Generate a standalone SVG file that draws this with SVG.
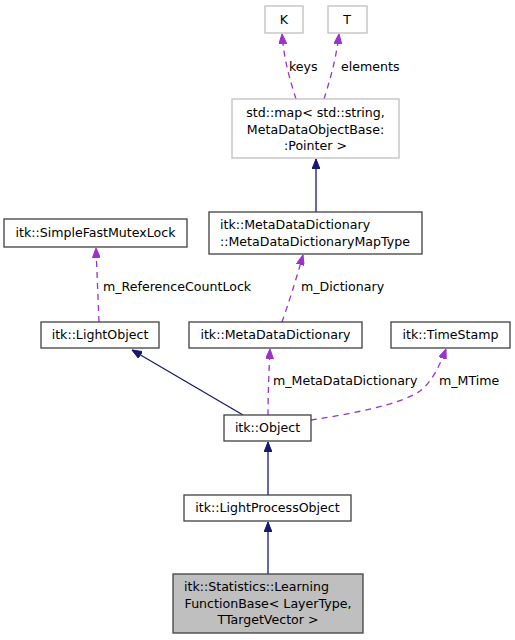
<svg xmlns="http://www.w3.org/2000/svg" width="515" height="640" viewBox="0 0 515 640">
<defs>
<marker id="blue" viewBox="0 0 10 8" refX="10" refY="4" markerWidth="10" markerHeight="8" markerUnits="userSpaceOnUse" orient="auto"><path d="M0,0 L10,4 L0,8 Z" fill="#191970" stroke="#191970" stroke-width="1"/></marker>
<marker id="purple" viewBox="0 0 10 8" refX="10" refY="4" markerWidth="10" markerHeight="8" markerUnits="userSpaceOnUse" orient="auto"><path d="M0,0 L10,4 L0,8 Z" fill="#9a32cd" stroke="#9a32cd" stroke-width="1"/></marker>
</defs>
<style>
text{font-family:"DejaVu Sans","Liberation Sans",sans-serif;font-size:12.6px;fill:#000}
.c{text-anchor:middle}
.n{fill:#fff;stroke:#404040;stroke-width:1.3}
.g{fill:#fff;stroke:#bfbfbf;stroke-width:1.3}
.s{fill:#bfbfbf;stroke:#404040;stroke-width:1.3}
.inh{fill:none;stroke:#191970;stroke-width:1.3;marker-end:url(#blue)}
.use{fill:none;stroke:#9a32cd;stroke-width:1.3;stroke-dasharray:6,5;marker-end:url(#purple)}
</style>
<rect width="515" height="640" fill="#fff"/>
<g id="edges">
<path class="use" d="M296,99 C290,80 284,60 282,34"/>
<text x="289" y="71">keys</text>
<path class="use" d="M324,99 C330,80 336,60 339,34"/>
<text x="341" y="71">elements</text>
<path class="inh" d="M316,212 L316,159"/>
<path class="use" d="M99,322 L96,248"/>
<text x="103" y="291">m_ReferenceCountLock</text>
<path class="use" d="M282,322 C288,305 296,280 303,255"/>
<text x="301" y="291">m_Dictionary</text>
<path class="inh" d="M243,415 L132,350"/>
<path class="use" d="M268,415 C268,395 269,370 270,349"/>
<text x="273" y="385">m_MetaDataDictionary</text>
<path class="use" d="M311,420 C350,414 400,405 420,391 C432,382 440,365 446,349"/>
<text x="439" y="385">m_MTime</text>
<path class="inh" d="M268,495 L268,442"/>
<path class="inh" d="M268,574 L268,522"/>
</g>
<g id="K"><rect class="g" x="265" y="6" width="38" height="27"/><text class="c" x="284" y="24">K</text></g>
<g id="T"><rect class="g" x="328" y="6" width="39" height="27"/><text class="c" x="347" y="24">T</text></g>
<g id="stdmap"><rect class="g" x="232" y="99" width="167" height="59"/>
<text class="c" x="315.5" y="117">std::map&lt; std::string,</text>
<text class="c" x="315.5" y="134">MetaDataObjectBase:</text>
<text class="c" x="315.5" y="150">:Pointer &gt;</text></g>
<g id="maptype"><rect class="n" x="209" y="212" width="213" height="42"/>
<text x="220" y="229">itk::MetaDataDictionary</text>
<text x="220" y="246">::MetaDataDictionaryMapType</text></g>
<g id="mutex"><rect class="n" x="4" y="219" width="183" height="28"/><text class="c" x="95.5" y="237">itk::SimpleFastMutexLock</text></g>
<g id="lightobject"><rect class="n" x="41" y="322" width="118" height="26"/><text class="c" x="100" y="339">itk::LightObject</text></g>
<g id="mdd"><rect class="n" x="189" y="322" width="173" height="26"/><text class="c" x="275.5" y="339">itk::MetaDataDictionary</text></g>
<g id="timestamp"><rect class="n" x="391" y="322" width="119" height="26"/><text class="c" x="450.5" y="339">itk::TimeStamp</text></g>
<g id="object"><rect class="n" x="224" y="415" width="87" height="26"/><text class="c" x="267.5" y="432">itk::Object</text></g>
<g id="lpo"><rect class="n" x="184" y="495" width="167" height="26"/><text class="c" x="267.5" y="512">itk::LightProcessObject</text></g>
<g id="learning"><rect class="s" x="173" y="574" width="190" height="59"/>
<text x="184" y="591">itk::Statistics::Learning</text>
<text class="c" x="268" y="608">FunctionBase&lt; LayerType,</text>
<text class="c" x="268" y="624">TTargetVector &gt;</text></g>
</svg>
